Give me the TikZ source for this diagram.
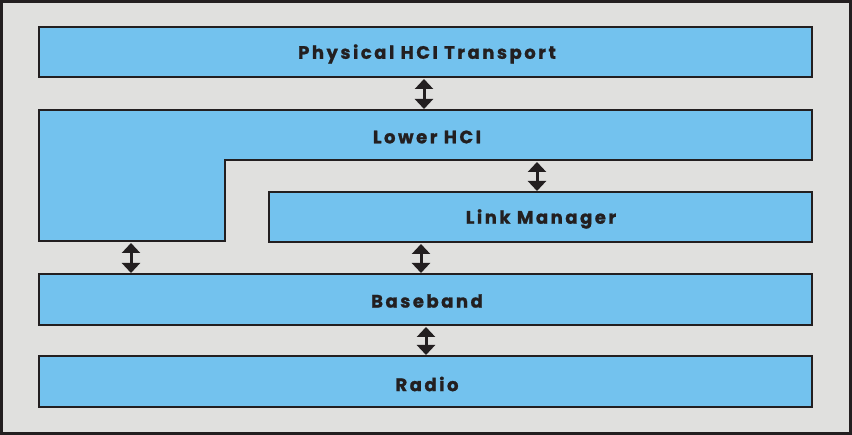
\documentclass[tikz,border=0pt]{standalone}
\usepackage{fontspec}
\setmainfont{DejaVu Sans}
\newfontfamily\labelfont[LetterSpace=14,BoldFeatures={FakeBold=1.2}]{Poppins}
\usetikzlibrary{arrows.meta}
\definecolor{bluefill}{RGB}{115,194,238}
\definecolor{greybg}{RGB}{224,224,222}
\definecolor{darkline}{RGB}{35,31,32}
\begin{document}
\begin{tikzpicture}[x=1pt,y=-1pt,
  layerbox/.style={draw=darkline,fill=bluefill,line width=2.5pt},
  lbl/.style={font=\labelfont\bfseries\fontsize{18}{20}\selectfont,text=darkline,inner sep=0pt},
  dblarrow/.style={draw=darkline,line width=3pt,{Triangle[width=18pt,length=10pt]}-{Triangle[width=18pt,length=10pt]}}]
\useasboundingbox (0,0) rectangle (852,435);
\draw[draw=darkline,fill=greybg,line width=3pt] (1.5,1.5) rectangle (850.5,433.5);
% boxes
\draw[layerbox] (39,27) rectangle (812,77);
\node[lbl] (phys) at (427,54) {Physical HCI Transport};
\draw[layerbox] (39,110) -- (812,110) -- (812,160) -- (225,160) -- (225,241) -- (39,241) -- cycle;
\node[lbl] (lhci) at (427,137) {Lower HCI};
\draw[layerbox] (269,192) rectangle (812,242);
\node[lbl] (lm) at (541,219) {Link Manager};
\draw[layerbox] (39,274) rectangle (812,325);
\node[lbl] (bb) at (427,301) {Baseband};
\draw[layerbox] (39,356) rectangle (812,407);
\node[lbl] (radio) at (427,384) {Radio};
% arrow endpoints
\coordinate (a1t) at (424,79); \coordinate (a1b) at (424,109);
\coordinate (a2t) at (537,162); \coordinate (a2b) at (537,191);
\coordinate (a3t) at (131,243); \coordinate (a3b) at (131,273);
\coordinate (a4t) at (421,244); \coordinate (a4b) at (421,273);
\coordinate (a5t) at (426,327); \coordinate (a5b) at (426,355);
\draw[dblarrow] (a1t) -- (a1b);
\draw[dblarrow] (a2t) -- (a2b);
\draw[dblarrow] (a3t) -- (a3b);
\draw[dblarrow] (a4t) -- (a4b);
\draw[dblarrow] (a5t) -- (a5b);
\end{tikzpicture}
\end{document}
